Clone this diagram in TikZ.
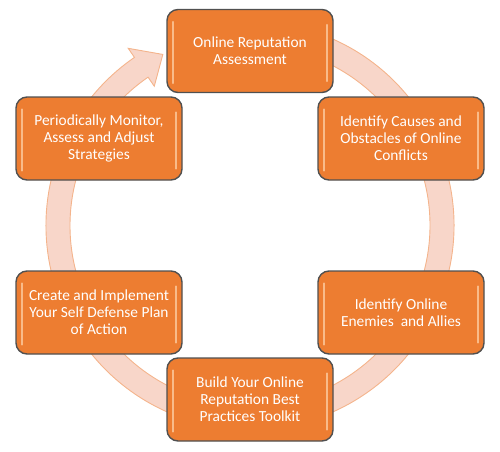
\documentclass[tikz,border=0pt]{standalone}
\usepackage{fontspec}
\setmainfont{Carlito}
\usepackage{tikz}
\usetikzlibrary{positioning}
\definecolor{boxOrange}{RGB}{237,125,49}
\definecolor{boxBorder}{RGB}{80,80,80}
\definecolor{ringFill}{RGB}{248,214,201}
\definecolor{ringLine}{RGB}{244,180,140}
\definecolor{glossLight}{RGB}{255,214,175}
\tikzset{StepBox/.style={%
    shape=rectangle,%
    draw=boxBorder,%
    fill=boxOrange,%
    rounded corners=11pt,%
    line width=1.4pt,%
    minimum width=166pt,%
    minimum height=83pt,%
    text=white,%
    align=center,%
    font=\fontsize{15.4}{17.2}\selectfont,%
}}
\tikzset{Ring/.style={%
    draw=ringLine,%
    fill=ringFill,%
    line width=0.9pt,%
}}
\tikzset{Gloss/.style={%
    draw=glossLight,%
    line width=2pt,%
    line cap=round,%
    opacity=0.7,%
}}
\NewDocumentCommand{\boxGloss}{m}{%
    \draw[Gloss] ([xshift=7pt,yshift=-13pt]#1.north west) -- ([xshift=7pt,yshift=10pt]#1.south west);%
    \draw[Gloss] ([xshift=-7pt,yshift=-16pt]#1.north east) -- ([xshift=-7pt,yshift=12pt]#1.south east);%
}

\begin{document}
\begin{tikzpicture}[x=1pt,y=1pt]
    \useasboundingbox (0,0) rectangle (500,451);

    % circular arrow behind the boxes
    \begin{scope}[shift={(250,225.5)}]
        \path[Ring] (70:204) arc[start angle=70, end angle=-235.5, radius=204]
            -- (-235.5:215) -- (-243:192) -- (-235.5:169)
            -- (-235.5:180) arc[start angle=-235.5, end angle=70, radius=180] -- cycle;
    \end{scope}

    \node[StepBox] (assess) at (250,400) {Online Reputation\\Assessment};
    \node[StepBox] (causes) at (401,312.5) {Identify Causes and\\Obstacles of Online\\Conflicts};
    \node[StepBox] (enemies) at (401,138.5) {Identify Online\\Enemies\ \ and Allies};
    \node[StepBox] (toolkit) at (250,51.5) {Build Your Online\\Reputation Best\\Practices Toolkit};
    \node[StepBox] (defense) at (99,138.5) {Create and Implement\\Your Self Defense Plan\\of Action};
    \node[StepBox] (monitor) at (99,312.5) {Periodically Monitor,\\Assess and Adjust\\Strategies};

    \boxGloss{assess}
    \boxGloss{causes}
    \boxGloss{enemies}
    \boxGloss{toolkit}
    \boxGloss{defense}
    \boxGloss{monitor}
\end{tikzpicture}
\end{document}
